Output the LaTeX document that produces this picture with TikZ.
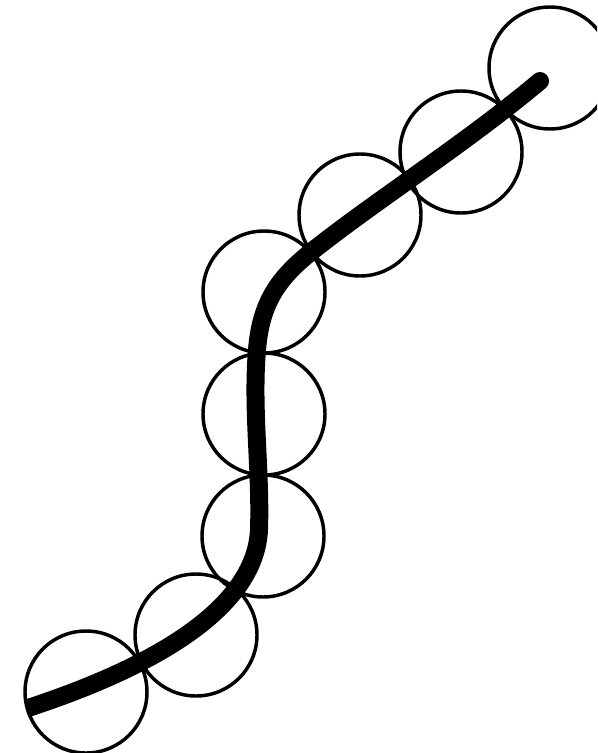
\documentclass[tikz,border=0pt]{standalone}
\begin{document}
\begin{tikzpicture}[x=0.75pt,y=-0.75pt,
  bead/.style={circle,draw=black,line width=2.6pt,minimum size=122*0.75pt,inner sep=0pt},
  thread/.style={line width=13.5pt,line cap=butt,line join=round}]
\useasboundingbox (0,0) rectangle (597,753);
\clip (0,0) rectangle (597,753);
\node[bead] (c1) at (86,692) {};
\node[bead] (c2) at (196,635) {};
\node[bead] (c3) at (263,536) {};
\node[bead] (c4) at (264,414) {};
\node[bead] (c5) at (264,292) {};
\node[bead] (c6) at (360,215) {};
\node[bead] (c7) at (461,152) {};
\node[bead] (c8) at (550,68) {};
\coordinate (s) at (28,708);
\coordinate (e) at (540,81);
\draw[thread] (s) .. controls (150,668) and (255,610) .. (259,530)
  .. controls (261,470) and (252,410) .. (257,350)
  .. controls (261,300) and (280,275) .. (320,245)
  .. controls (380,198) and (470,140) .. (e);
\fill (e) circle (6.75pt);
\end{tikzpicture}
\end{document}
